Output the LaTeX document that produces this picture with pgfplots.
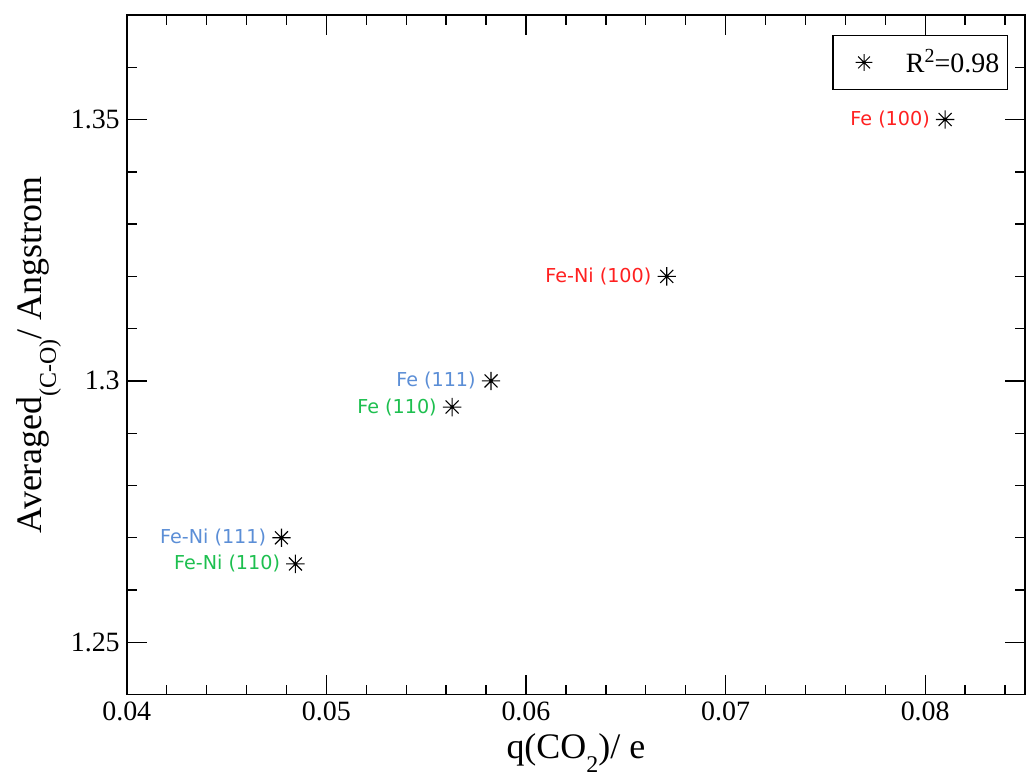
\documentclass[border=0pt]{standalone}
\usepackage{fontspec}
\setmainfont{Liberation Serif}
\newfontfamily\lblfont{DejaVu Sans}
\usepackage{pgfplots}
\pgfplotsset{compat=1.18}
\definecolor{lred}{HTML}{FF2020}
\definecolor{lblue}{HTML}{5B8ED6}
\definecolor{lgreen}{HTML}{1DBF4F}
\newcommand{\lowsub}[1]{\raisebox{-7pt}{\fontsize{12}{12}\selectfont #1}}

% xmgrace-style star: plus and cross together
\pgfdeclareplotmark{gstar}{%
  \pgfpathmoveto{\pgfqpoint{-\pgfplotmarksize}{0pt}}\pgfpathlineto{\pgfqpoint{\pgfplotmarksize}{0pt}}%
  \pgfpathmoveto{\pgfqpoint{0pt}{-\pgfplotmarksize}}\pgfpathlineto{\pgfqpoint{0pt}{\pgfplotmarksize}}%
  \pgfpathmoveto{\pgfqpoint{-.7071\pgfplotmarksize}{-.7071\pgfplotmarksize}}\pgfpathlineto{\pgfqpoint{.7071\pgfplotmarksize}{.7071\pgfplotmarksize}}%
  \pgfpathmoveto{\pgfqpoint{-.7071\pgfplotmarksize}{.7071\pgfplotmarksize}}\pgfpathlineto{\pgfqpoint{.7071\pgfplotmarksize}{-.7071\pgfplotmarksize}}%
  \pgfusepathqstroke}

\begin{document}
\begin{tikzpicture}
\begin{axis}[
  scale only axis, width=450pt, height=340.5pt,
  xmin=0.04, xmax=0.085, ymin=1.24, ymax=1.37,
  xtick={0.04,0.05,0.06,0.07,0.08},
  minor xtick={0.042,0.044,0.046,0.048,0.052,0.054,0.056,0.058,0.062,0.064,0.066,0.068,0.072,0.074,0.076,0.078,0.082,0.084},
  ytick={1.25,1.3,1.35},
  minor ytick={1.24,1.26,1.27,1.28,1.29,1.31,1.32,1.33,1.34,1.36},
  tick align=inside, tick pos=both,
  major tick length=10pt, minor tick length=5pt,
  every tick/.style={black, line width=0.7pt},
  axis line style={line width=0.8pt},
  /pgf/number format/assume math mode=true,
  /pgf/number format/fixed, /pgf/number format/precision=2,
  scaled ticks=false,
  tick label style={font=\fontsize{14}{16}\selectfont},
  xlabel={q(CO\lowsub{2})/ e},
  ylabel={Averaged\lowsub{(C-O)}/ Angstrom},
  label style={font=\fontsize{18}{20}\selectfont},
  xlabel style={at={(axis description cs:0.5,-0.094)}, anchor=base},
  ylabel style={at={(axis description cs:-0.0944,0.5)}, anchor=base},
  legend style={at={(0.981,0.971)}, anchor=north east, draw=black, line width=0.7pt,
    font=\fontsize{14}{16}\selectfont, inner xsep=1pt, inner ysep=5pt,
    nodes={inner xsep=3pt}},
  legend image code/.code={\path[draw=none] (0pt,-1pt) rectangle (32.5pt,1pt);
    \path[draw=black, line width=0.5pt] plot[only marks, mark=gstar, mark size=4.2pt] coordinates {(14.5pt,0pt)};},
]
\addplot[only marks, mark=gstar, mark size=4.6pt, line width=0.55pt, black] coordinates {
  (0.081,1.35) (0.06705,1.32) (0.05825,1.30) (0.0563,1.295) (0.04775,1.27) (0.04845,1.265)};
\addlegendentry{R\raisebox{5pt}{\fontsize{10}{10}\selectfont 2}=0.98}

\begin{scope}[every node/.style={anchor=east, inner sep=0pt, xshift=-7.5pt, font=\lblfont\fontsize{9.6}{11}\selectfont}]
\node[text=lred] at (axis cs:0.081,1.35) {Fe (100)};
\node[text=lred] at (axis cs:0.06705,1.32) {Fe-Ni (100)};
\node[text=lblue] at (axis cs:0.05825,1.30) {Fe (111)};
\node[text=lgreen] at (axis cs:0.0563,1.295) {Fe (110)};
\node[text=lblue] at (axis cs:0.04775,1.27) {Fe-Ni (111)};
\node[text=lgreen] at (axis cs:0.04845,1.265) {Fe-Ni (110)};
\end{scope}
\end{axis}
\pgfresetboundingbox
\path[use as bounding box] (-63.5pt,-42pt) rectangle (450.5pt,348pt);
\end{tikzpicture}
\end{document}
